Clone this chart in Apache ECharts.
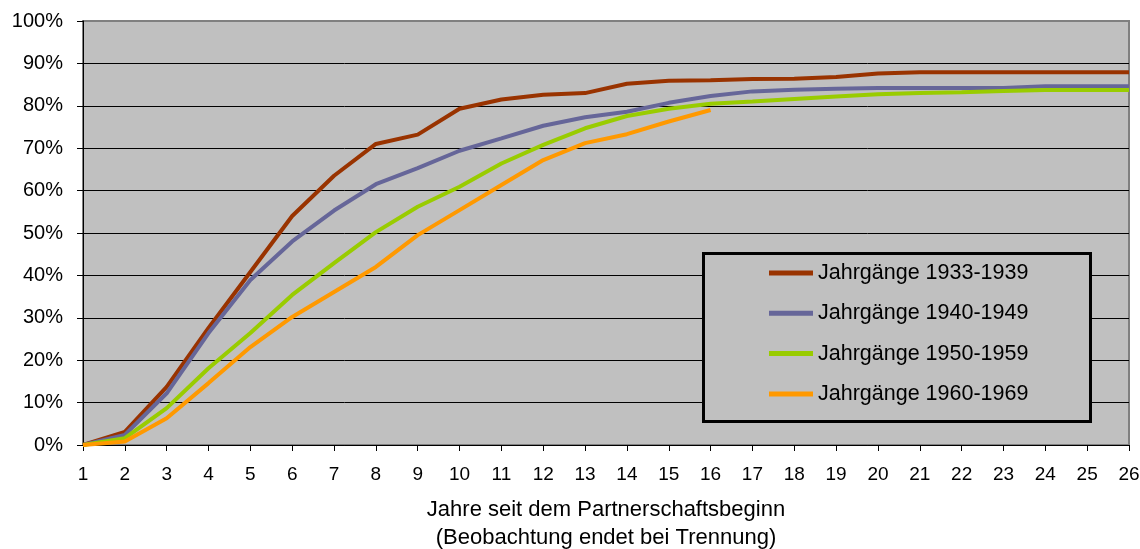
<!DOCTYPE html>
<html>
<head>
<meta charset="utf-8">
<script src="https://cdn.jsdelivr.net/npm/echarts@6/dist/echarts.min.js"></script>
<style>
html,body{margin:0;padding:0;background:#fff;}
#c{width:1140px;height:549px;}
</style>
</head>
<body>
<div id="c"></div>
<script>
var years = ['1','2','3','4','5','6','7','8','9','10','11','12','13','14','15','16','17','18','19','20','21','22','23','24','25','26'];
var seriesNames = ['Jahrgänge 1933-1939','Jahrgänge 1940-1949','Jahrgänge 1950-1959','Jahrgänge 1960-1969'];
var cohort1933 = [0, 3.1, 13.7, 27.6, 40.8, 54, 63.5, 71, 73.2, 79.3, 81.5, 82.6, 83, 85.2, 85.9, 86, 86.3, 86.4, 86.8, 87.6, 87.9, 87.9, 87.9, 87.9, 87.9, 87.9];
var cohort1940 = [0, 2.4, 12.2, 26.4, 38.9, 48, 55.3, 61.5, 65.3, 69.4, 72.3, 75.3, 77.3, 78.6, 80.7, 82.3, 83.4, 83.8, 84, 84.2, 84.2, 84.2, 84.2, 84.6, 84.6, 84.6];
var cohort1950 = [0, 1.6, 8.7, 18.1, 26.4, 35.4, 42.9, 50.2, 56.2, 60.9, 66.4, 70.8, 74.7, 77.6, 79.3, 80.5, 81, 81.6, 82.2, 82.7, 83, 83.2, 83.5, 83.7, 83.7, 83.7];
var cohort1960 = [0, 0.8, 6.3, 14.6, 23.1, 30.2, 36.1, 42, 49.5, 55.4, 61.3, 67.2, 71.2, 73.3, 76.3, 79];
var colors = ['#993300', '#666699', '#99CC00', '#FF9900'];
var allData = [cohort1933, cohort1940, cohort1950, cohort1960];

var font = 'Liberation Sans, Arial, sans-serif';
var chart = echarts.init(document.getElementById('c'), null, {renderer: 'canvas'});
var option = {
  animation: false,
  backgroundColor: '#ffffff',
  color: colors,
  grid: {
    left: 83, top: 21, right: 11, bottom: 104,
    show: true, backgroundColor: '#C0C0C0', borderColor: '#808080', borderWidth: 2,
    containLabel: false, outerBoundsMode: 'none'
  },
  graphic: [{
    type: 'rect', z: 1,
    shape: {x: 703.5, y: 253.5, width: 387, height: 168},
    style: {fill: '#C0C0C0', stroke: '#000', lineWidth: 3}
  }],
  legend: {
    orient: 'vertical', left: 769, top: 262,
    itemWidth: 44, itemHeight: 5, itemGap: 18.3,
    icon: 'rect',
    padding: 0,
    textStyle: {fontFamily: font, fontSize: 21.5, color: '#000'},
    data: seriesNames
  },
  xAxis: {
    type: 'category', data: years, boundaryGap: false,
    name: 'Jahre seit dem Partnerschaftsbeginn\n(Beobachtung endet bei Trennung)',
    nameLocation: 'middle', nameGap: 51,
    nameTextStyle: {fontFamily: font, fontSize: 22, color: '#000', lineHeight: 28},
    axisLine: {lineStyle: {color: '#000', width: 1}},
    axisTick: {show: true, length: 6, lineStyle: {color: '#000'}},
    axisLabel: {fontFamily: font, fontSize: 19, color: '#000', margin: 20, interval: 0},
    splitLine: {show: false}
  },
  yAxis: {
    type: 'value', min: 0, max: 100, interval: 10,
    axisLine: {show: true, lineStyle: {color: '#000', width: 1}},
    axisTick: {show: true, length: 6, lineStyle: {color: '#000'}},
    axisLabel: {fontFamily: font, fontSize: 20, color: '#000', margin: 20, formatter: '{value}%'},
    splitLine: {show: true, lineStyle: {color: ['#000','#000','#000','#000','#000','#000','#000','#000','#000','#000','#808080'], width: 1}}
  },
  series: seriesNames.map(function (n, i) {
    return {
      name: n, type: 'line', data: allData[i],
      symbol: 'none', showSymbol: false,
      lineStyle: {width: 4, color: colors[i]},
      itemStyle: {color: colors[i]},
      z: 2
    };
  })
};
chart.setOption(option);
</script>
</body>
</html>
